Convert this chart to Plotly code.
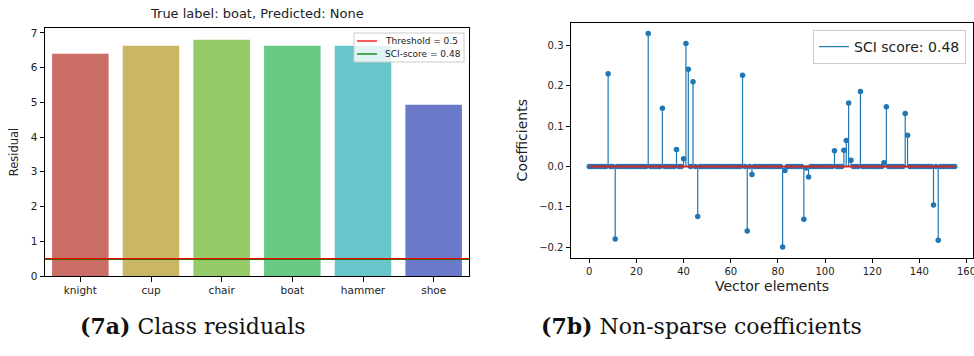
import plotly.graph_objects as go

# ---------------- data ----------------
categories = ["knight", "cup", "chair", "boat", "hammer", "shoe"]
residuals = [6.40, 6.63, 6.80, 6.63, 6.63, 4.93]
bar_colors = ["#cb6d67", "#c9b765", "#95ca69", "#68ca85", "#68c5ca", "#6a7ac9"]
threshold = 0.5
sci_score = 0.48

n_elements = 156
nz_index = [8, 11, 25, 31, 37, 40, 41, 42, 44, 46, 65, 67, 69, 82, 83, 91, 92, 93,
            104, 108, 109, 110, 111, 115, 125, 126, 134, 135, 146, 148]
nz_value = [0.23, -0.18, 0.33, 0.144, 0.042, 0.019, 0.305, 0.241, 0.21, -0.124,
            0.226, -0.16, -0.02, -0.2, -0.01, -0.131, -0.004, -0.0265,
            0.039, 0.04, 0.064, 0.157, 0.015, 0.186, 0.009, 0.148, 0.131, 0.077,
            -0.096, -0.183]

W, H = 974, 356
FONT = "DejaVu Sans"

coeffs = [0.0] * n_elements
for i, v in zip(nz_index, nz_value):
    coeffs[i] = v
elements = list(range(n_elements))

fig = go.Figure()

# ---------------- left: bar chart ----------------
fig.add_trace(go.Bar(
    x=list(range(len(categories))), y=residuals, width=0.8,
    marker=dict(color=bar_colors, line=dict(width=0)),
    showlegend=False, xaxis="x", yaxis="y"))
fig.add_trace(go.Scatter(
    x=[-0.5, len(categories) - 0.5], y=[sci_score, sci_score], mode="lines",
    line=dict(color="#008000", width=1.5), name=f"SCI-score = {sci_score}",
    showlegend=False, xaxis="x", yaxis="y"))
fig.add_trace(go.Scatter(
    x=[-0.5, len(categories) - 0.5], y=[threshold, threshold], mode="lines",
    line=dict(color="#ff0000", width=1.3), name=f"Threshold = {threshold}",
    showlegend=False, xaxis="x", yaxis="y"))

# ---------------- right: stem plot ----------------
sx, sy = [], []
for i, v in zip(elements, coeffs):
    if v != 0:
        sx += [i, i, None]
        sy += [0, v, None]
fig.add_trace(go.Scatter(
    x=sx, y=sy, mode="lines", line=dict(color="#1f77b4", width=1.2),
    name=f"SCI score: {sci_score}", xaxis="x2", yaxis="y2", legend="legend2"))
fig.add_trace(go.Scatter(
    x=elements, y=coeffs, mode="markers",
    marker=dict(color="#1f77b4", size=5.5, line=dict(width=0)),
    showlegend=False, xaxis="x2", yaxis="y2"))
fig.add_trace(go.Scatter(
    x=[elements[0], elements[-1]], y=[0, 0], mode="lines",
    line=dict(color="#d62728", width=2), showlegend=False,
    xaxis="x2", yaxis="y2"))

axis_common = dict(showline=True, mirror=True, linecolor="black", linewidth=1,
                   ticks="outside", tickcolor="black", showgrid=False,
                   zeroline=False, automargin=False, ticklabeloverflow="allow")

fig.update_layout(
    width=W, height=H, margin=dict(l=0, r=0, t=0, b=0),
    paper_bgcolor="white", plot_bgcolor="white",
    font=dict(family=FONT, color="#222"),
    xaxis=dict(domain=[45 / W, 469 / W], anchor="y", range=[-0.5, 5.5],
               tickvals=list(range(len(categories))), ticktext=categories,
               ticklen=4.5, tickfont=dict(size=10.5), **axis_common),
    yaxis=dict(domain=[1 - 276 / H, 1 - 28 / H], anchor="x", range=[0, 7.14],
               dtick=1, ticklen=4.5, tickfont=dict(size=10.5),
               title=dict(text="Residual", font=dict(size=11.5), standoff=9),
               **axis_common),
    xaxis2=dict(domain=[571 / W, 973 / W], anchor="y2", range=[-7.75, 162.75],
                dtick=20, ticklen=4.5, tickfont=dict(size=10),
                title=dict(text="Vector elements", font=dict(size=14), standoff=4),
                **axis_common),
    yaxis2=dict(domain=[1 - 257.7 / H, 1 - 22.7 / H], anchor="x2",
                range=[-0.2265, 0.3565], dtick=0.1, tickformat=".1f",
                ticklen=4.5, tickfont=dict(size=10),
                title=dict(text="Coefficients", font=dict(size=14), standoff=8),
                **axis_common),
    legend2=dict(x=966 / W, xanchor="right", y=1 - 30 / H, yanchor="top",
                 font=dict(size=14), bgcolor="rgba(255,255,255,0.8)",
                 bordercolor="#cccccc", borderwidth=1),
    barmode="overlay",
)

# manual legend for the left panel (matplotlib-style compact box)
fig.add_shape(type="rect", xref="paper", yref="paper",
              x0=354 / W, x1=464 / W, y0=1 - 62 / H, y1=1 - 33 / H,
              line=dict(color="#cccccc", width=1), fillcolor="rgba(255,255,255,0.8)",
              layer="above")
legend_items = [(f"Threshold = {threshold}", "#ff0000", 41),
                (f"SCI-score = {sci_score}", "#008000", 54)]
for label, col, ypx in legend_items:
    fig.add_shape(type="line", xref="paper", yref="paper",
                  x0=357 / W, x1=377 / W, y0=1 - ypx / H, y1=1 - ypx / H,
                  line=dict(color=col, width=1.3), layer="above")
    fig.add_annotation(text=label, xref="paper", yref="paper",
                       x=383 / W, y=1 - ypx / H, xanchor="left", yanchor="middle",
                       showarrow=False, font=dict(size=9, family=FONT, color="#222"))

# title of the left panel
fig.add_annotation(text="True label: boat, Predicted: None", xref="paper", yref="paper",
                   x=257 / W, y=1 - 14 / H, xanchor="center", yanchor="middle",
                   showarrow=False, font=dict(size=13, family=FONT, color="#222"))

# captions
fig.add_annotation(text="<b>(7a)</b> Class residuals", xref="paper", yref="paper",
                   x=193 / W, y=1 - 326 / H, xanchor="center", yanchor="middle",
                   showarrow=False, font=dict(size=22, family="DejaVu Serif", color="#111"))
fig.add_annotation(text="<b>(7b)</b> Non-sparse coefficients", xref="paper", yref="paper",
                   x=701 / W, y=1 - 326 / H, xanchor="center", yanchor="middle",
                   showarrow=False, font=dict(size=22, family="DejaVu Serif", color="#111"))

fig.write_html("out.html")
